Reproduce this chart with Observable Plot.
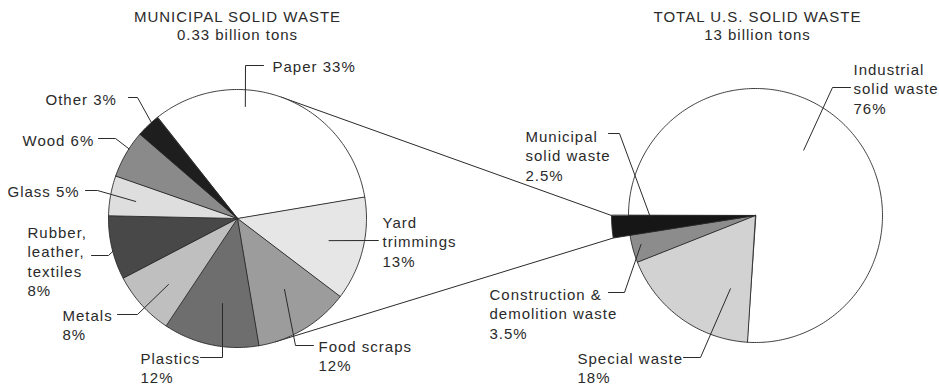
<!DOCTYPE html>
<html>
<head>
<meta charset="utf-8">
<script src="https://cdn.jsdelivr.net/npm/d3@7"></script>
<script src="https://cdn.jsdelivr.net/npm/@observablehq/plot@0.6"></script>
<style>
  html, body { margin: 0; padding: 0; background: #ffffff; }
</style>
</head>
<body>
<div id="chart"></div>
<script>
// ---------------- DATA ----------------
const mswTitle = "MUNICIPAL SOLID WASTE";
const mswSubtitle = "0.33 billion tons";
const mswCategories = ["Paper", "Yard trimmings", "Food scraps", "Plastics", "Metals",
  "Rubber, leather, textiles", "Glass", "Wood", "Other"];
const mswLabelNames = ["Paper", "Yard\ntrimmings", "Food scraps", "Plastics", "Metals",
  "Rubber,\nleather,\ntextiles", "Glass", "Wood", "Other"];
const mswLabelSeparators = [" ", "\n", "\n", "\n", "\n", "\n", " ", " ", " "];
const mswShares = [33, 13, 12, 12, 8, 8, 5, 6, 3];

const totalTitle = "TOTAL U.S. SOLID WASTE";
const totalSubtitle = "13 billion tons";
const totalCategories = ["Industrial solid waste", "Special waste",
  "Construction & demolition waste", "Municipal solid waste"];
const totalLabelNames = ["Industrial\nsolid waste", "Special waste",
  "Construction &\ndemolition waste", "Municipal\nsolid waste"];
const totalShares = [76, 18, 3.5, 2.5];

// ---------------- STYLES ----------------
const mswColors = ["#ffffff", "#e6e6e6", "#9c9c9c", "#6e6e6e", "#bfbfbf",
  "#484848", "#dedede", "#8a8a8a", "#1e1e1e"];
const totalColors = ["#ffffff", "#d2d2d2", "#8c8c8c", "#161616"];
const ink = "#2a2a2a";
const FONT = 15;
const LH = 1.3;

// ---------------- LAYOUT ----------------
const W = 939, H = 386;
const leftPie = {cx: 237, cy: 218, r: 129, start: -38.4};
const rightPie = {cx: 755, cy: 215, r: 127, start: 270, explode: {3: 144}};
// leader: polar anchor inside slice (deg, fraction of radius), elbow, tick end, text start
const leftLeaders = [
  {a: 4, k: 0.87, elbow: [245, 65], end: [263, 65], text: [272, 65]},
  {a: 103.6, k: 0.73, elbow: [378, 240], end: [378, 240], text: [382, 221]},
  {a: 146.5, k: 0.66, elbow: [295, 345], end: [313, 345], text: [318, 345]},
  {a: 190, k: 0.67, elbow: [222, 357], end: [200, 357], text: [140, 357]},
  {a: 226.3, k: 0.74, elbow: [137, 314], end: [117, 314], text: [62, 314]},
  {a: 255.2, k: 1.0, elbow: [108, 255], end: [91, 255], text: [27, 231]},
  {a: 279.5, k: 0.8, elbow: [97, 190], end: [85, 190], text: [7, 190]},
  {a: 302.7, k: 1.0, elbow: [115, 138], end: [98, 138], text: [22, 139]},
  {a: 318.1, k: 1.0, elbow: [137, 97], end: [128, 97], text: [45, 98]}
];
const rightLeaders = [
  {a: 36.4, k: 0.64, elbow: [832, 87], end: [850, 87], text: [853, 68]},
  {a: 198.9, k: 0.61, elbow: [700, 357], end: [683, 357], text: [577, 357]},
  {a: 255.8, k: 0.93, elbow: [624, 292], end: [608, 292], text: [489, 293]},
  {a: 269.5, k: 0.83, elbow: [619, 133], end: [608, 133], text: [525, 135]}
];
const titlePos = {left: [237, 25], right: [757, 25]};

// ---------------- BUILD ----------------
const rad = d => d * Math.PI / 180;
const polar = (pie, ang, r) => [pie.cx + r * Math.sin(ang), pie.cy - r * Math.cos(ang)];

function buildPie(key, values, colors, pie) {
  const arcs = d3.pie().sort(null).value(d => d)
    .startAngle(rad(pie.start)).endAngle(rad(pie.start) + 2 * Math.PI)(values);
  const rows = [];
  arcs.forEach((a, i) => {
    const r = (pie.explode && pie.explode[i]) || pie.r;
    const id = key + i;
    rows.push({id, fill: colors[i], x: pie.cx, y: pie.cy});
    const n = Math.max(2, Math.ceil((a.endAngle - a.startAngle) / rad(1)));
    for (let j = 0; j <= n; j++) {
      const t = a.startAngle + (a.endAngle - a.startAngle) * j / n;
      const [x, y] = polar(pie, t, r);
      rows.push({id, fill: colors[i], x, y});
    }
  });
  return {rows, arcs};
}

const left = buildPie("L", mswShares, mswColors, leftPie);
const right = buildPie("R", totalShares, totalColors, rightPie);

// connecting tangent lines from the exploded municipal slice to the left pie
function tangent(pie, P, sign) {
  const dx = P[0] - pie.cx, dy = P[1] - pie.cy;
  const d = Math.hypot(dx, dy);
  const phi = Math.atan2(dy, dx);
  const t = phi + sign * Math.acos(pie.r / d);
  return [pie.cx + pie.r * Math.cos(t), pie.cy + pie.r * Math.sin(t)];
}
const mIdx = totalCategories.indexOf("Municipal solid waste");
const mArc = right.arcs[mIdx];
const mR = rightPie.explode[mIdx];
const cTop = polar(rightPie, mArc.endAngle, mR);
const cBot = polar(rightPie, mArc.startAngle, mR);
const tTop = tangent(leftPie, cTop, -1);
const tBot = tangent(leftPie, cBot, 1);
const connectors = [
  {id: "top", x: tTop[0], y: tTop[1]},
  {id: "top", x: cTop[0], y: cTop[1]},
  {id: "bot", x: tBot[0], y: tBot[1]},
  {id: "bot", x: cBot[0], y: cBot[1]}
];

// leaders and labels
const leaderRows = [];
const labelRows = [];
function addLabels(key, pie, leaders, names, seps, values) {
  leaders.forEach((L, i) => {
    const p = polar(pie, rad(L.a), L.k * pie.r);
    const id = key + i;
    leaderRows.push({id, x: p[0], y: p[1]});
    leaderRows.push({id, x: L.elbow[0], y: L.elbow[1]});
    leaderRows.push({id, x: L.end[0], y: L.end[1]});
    const text = names[i] + seps[i] + values[i] + "%";
    const n = text.split("\n").length;
    labelRows.push({text, x: L.text[0], y: L.text[1] + (n - 1) * LH * FONT / 2});
  });
}
addLabels("L", leftPie, leftLeaders, mswLabelNames, mswLabelSeparators, mswShares);
addLabels("R", rightPie, rightLeaders, totalLabelNames, totalLabelNames.map(() => "\n"), totalShares);

const titles = [
  {text: mswTitle + "\n" + mswSubtitle, x: titlePos.left[0], y: titlePos.left[1]},
  {text: totalTitle + "\n" + totalSubtitle, x: titlePos.right[0], y: titlePos.right[1]}
];

const chart = Plot.plot({
  width: W,
  height: H,
  margin: 0,
  x: {domain: [0, W], range: [0, W], axis: null},
  y: {domain: [0, H], range: [0, H], axis: null},
  color: {type: "identity"},
  style: {fontFamily: "'Liberation Sans', Arial, sans-serif", letterSpacing: "1px", background: "#ffffff", color: ink},
  marks: [
    Plot.line(connectors, {x: "x", y: "y", z: "id", stroke: ink, strokeWidth: 1}),
    Plot.line(left.rows, {x: "x", y: "y", z: "id", fill: "fill", stroke: ink, strokeWidth: 0.9, curve: "linear-closed"}),
    Plot.line(right.rows, {x: "x", y: "y", z: "id", fill: "fill", stroke: ink, strokeWidth: 0.9, curve: "linear-closed"}),
    Plot.line(leaderRows, {x: "x", y: "y", z: "id", stroke: ink, strokeWidth: 1}),
    Plot.text(labelRows, {x: "x", y: "y", text: "text", textAnchor: "start", fontSize: FONT, lineHeight: LH, fill: ink}),
    Plot.text(titles, {x: "x", y: "y", text: "text", textAnchor: "middle", fontSize: FONT, lineHeight: 1.2, fill: ink})
  ]
});
document.getElementById("chart").appendChild(chart);
</script>
</body>
</html>
